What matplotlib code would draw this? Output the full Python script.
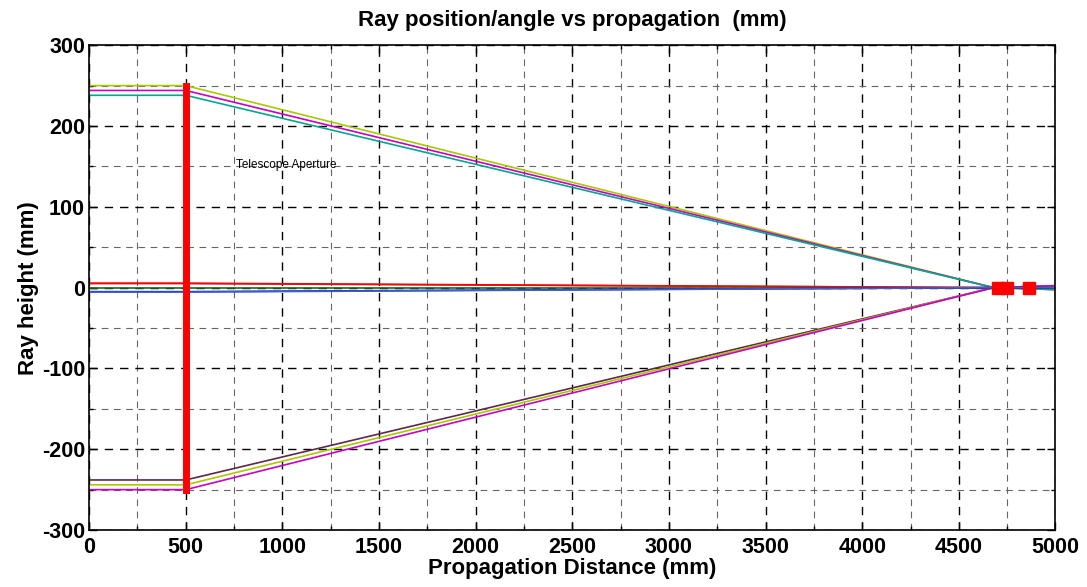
import matplotlib
matplotlib.use("Agg")
import matplotlib.pyplot as plt
from matplotlib.ticker import MultipleLocator

plt.rcParams['font.family'] = ['Liberation Sans', 'DejaVu Sans']
plt.rcParams['axes.unicode_minus'] = False

# ray start heights (mm) and colours
outer_heights = [250, 244, 238, -238, -244, -250]
outer_colors = ['#a8c800', '#c800c8', '#00a890', '#602848', '#a8c800', '#c800c8']
inner_heights = [5, 5.5, 0, -5, -5.5]
inner_colors = ['#b0305a', '#ff0000', '#1a6a1a', '#0000ff', '#4060c0']

# propagation stations (mm)
aperture_x = 500
focus_x = 4680
end_x = 5000
lens_x = [4702, 4748, 4862]
lens_y = [0, 0, 0]

fig, ax = plt.subplots(figsize=(10.87, 5.87), dpi=100)
fig.subplots_adjust(left=0.082, right=0.971, bottom=0.097, top=0.923)

for h, c in zip(outer_heights, outer_colors):
    ax.plot([0, aperture_x, focus_x, end_x], [h, h, 0, -h * 0.01], color=c, lw=1.2)

for h, c in zip(inner_heights, inner_colors):
    ax.plot([0, aperture_x, focus_x, end_x], [h, h, 0, 0], color=c, lw=1.2)

# telescope aperture
ax.plot([aperture_x, aperture_x], [-250, 250], color='red', lw=5)
ax.text(760, 152, 'Telescope Aperture', fontsize=8.5, va='center')

ax.plot(lens_x, lens_y, 's', color='red', ms=8, mec='red')

ax.set_xlim(0, 5000)
ax.set_ylim(-300, 300)
ax.xaxis.set_major_locator(MultipleLocator(500))
ax.xaxis.set_minor_locator(MultipleLocator(250))
ax.yaxis.set_major_locator(MultipleLocator(100))
ax.yaxis.set_minor_locator(MultipleLocator(50))
ax.grid(which='major', color='black', linestyle=(0, (6, 5)), lw=1)
ax.grid(which='minor', color='0.4', linestyle=(0, (6, 5)), lw=0.8)
ax.tick_params(which='both', direction='in', top=True, right=True, width=1)
ax.tick_params(which='major', length=6, labelsize=15.5, pad=3)
ax.tick_params(axis='x', which='major', pad=5)
ax.tick_params(which='minor', length=3)
for lbl in ax.get_xticklabels() + ax.get_yticklabels():
    lbl.set_fontweight('bold')
for s in ax.spines.values():
    s.set_linewidth(1.2)

ax.set_title('Ray position/angle vs propagation  (mm)', fontsize=16, fontweight='bold', pad=14)
ax.set_xlabel('Propagation Distance (mm)', fontsize=16, fontweight='bold', labelpad=0)
ax.set_ylabel('Ray height (mm)', fontsize=16, fontweight='bold', labelpad=2)

fig.savefig('out.png', dpi=100)
